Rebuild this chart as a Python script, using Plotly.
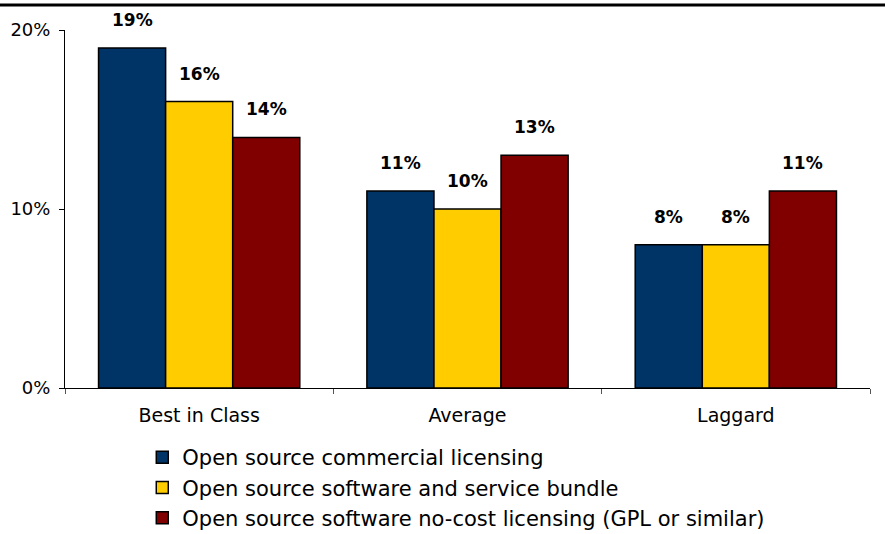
import plotly.graph_objects as go

categories = ["Best in Class", "Average", "Laggard"]
series_names = [
    "Open source commercial licensing",
    "Open source software and service bundle",
    "Open source software no-cost licensing (GPL or similar)",
]
commercial = [19, 11, 8]
bundle = [16, 10, 8]
no_cost = [14, 13, 11]
series_values = [commercial, bundle, no_cost]
series_colors = ["#003366", "#FFCC00", "#800000"]
y_ticks = [0, 10, 20]
y_tick_labels = [f"{t}%" for t in y_ticks]

FONT = "DejaVu Sans, Arial, sans-serif"

fig = go.Figure()
for i, (name, vals, col) in enumerate(zip(series_names, series_values, series_colors)):
    fig.add_trace(go.Bar(
        x=categories, y=vals, name=name, legendgroup=f"g{i}",
        marker=dict(color=col, line=dict(color="#000000", width=1.5)),
    ))

# value labels above each bar
bar_w = 0.75 / len(series_values)
for j, vals in enumerate(series_values):
    off = (j - 1) * bar_w
    for i, v in enumerate(vals):
        fig.add_annotation(
            x=i + off, y=v, text=f"<b>{v}%</b>", showarrow=False,
            yanchor="middle", yshift=28,
            font=dict(family=FONT, size=17, color="#000000"),
        )

# rule across the top of the page
fig.add_shape(type="line", xref="paper", yref="paper",
              x0=-0.1, x1=1.1, y0=1.07, y1=1.07,
              line=dict(color="#000000", width=3))

fig.update_layout(
    width=885, height=534,
    margin=dict(l=65, r=15, t=30, b=146, autoexpand=False),
    paper_bgcolor="white", plot_bgcolor="white",
    barmode="group", bargap=0.25, bargroupgap=0,
    font=dict(family=FONT, size=18, color="#000000"),
    showlegend=True,
    legend=dict(
        x=0.096, xanchor="left",
        yref="container", y=(534 - 437) / 534, yanchor="top",
        font=dict(family=FONT, size=21, color="#000000"),
        tracegroupgap=7, traceorder="normal",
        bgcolor="rgba(0,0,0,0)",
    ),
)
fig.update_xaxes(
    showline=True, linecolor="#000000", linewidth=1,
    ticks="outside", tickson="boundaries", ticklen=5, tickcolor="#555555",
    ticklabelstandoff=10,
    showgrid=False, tickfont=dict(family=FONT, size=19),
)
fig.update_yaxes(
    range=[0, 20], tickvals=y_ticks, ticktext=y_tick_labels,
    showline=True, linecolor="#000000", linewidth=1,
    ticks="outside", ticklen=5, tickcolor="#000000",
    ticklabelstandoff=5,
    showgrid=False, zeroline=False, tickfont=dict(family=FONT, size=18),
)

fig.write_html("out.html")
